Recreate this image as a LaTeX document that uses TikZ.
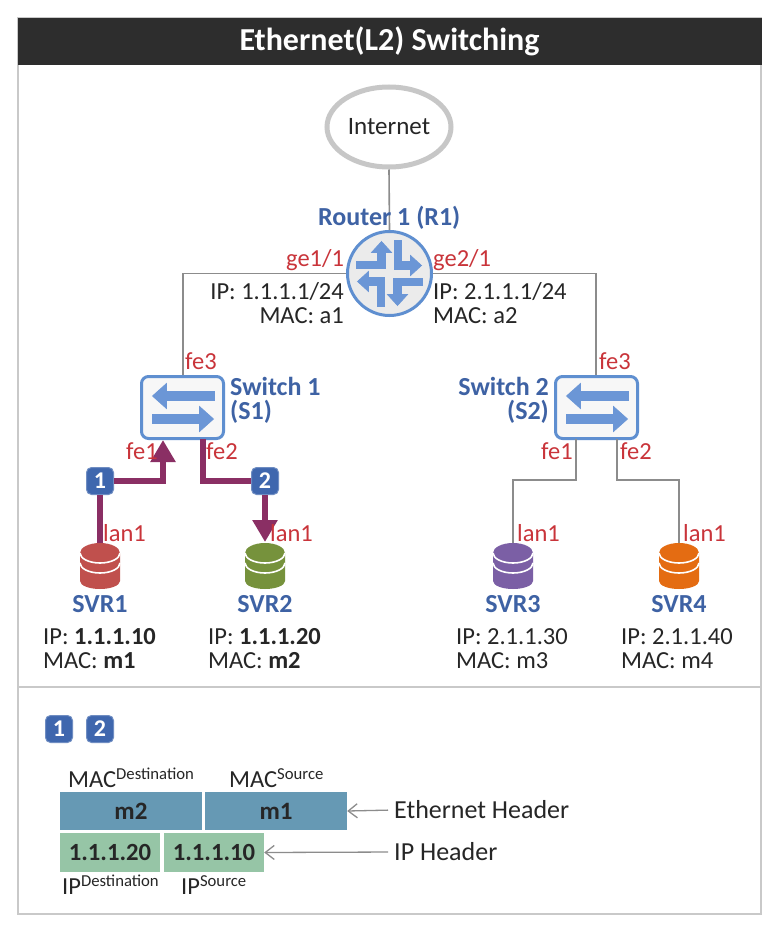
\documentclass[tikz,border=0pt]{standalone}
\usepackage{fontspec}
\setmainfont{Carlito}
\usetikzlibrary{arrows.meta,shapes.geometric}
\definecolor{framegray}{HTML}{C9C9C9}
\definecolor{linegray}{HTML}{8C8C8C}
\definecolor{titledark}{HTML}{2D2D2D}
\definecolor{iconblue}{HTML}{6B96D6}
\definecolor{edgeblue}{HTML}{5F8FD0}
\definecolor{labelblue}{HTML}{3E62A4}
\definecolor{portred}{HTML}{C9343A}
\definecolor{flowpurple}{HTML}{8A2F64}
\definecolor{badgeblue}{HTML}{3F67AE}
\definecolor{machead}{HTML}{6699B4}
\definecolor{iphead}{HTML}{96C5A6}
\definecolor{txt}{HTML}{262626}
\definecolor{dbred}{HTML}{C0504D}
\definecolor{dbgreen}{HTML}{76923C}
\definecolor{dbpurple}{HTML}{7B5FA5}
\definecolor{dborange}{HTML}{E46C12}
\newcommand{\fs}[1]{\fontsize{#1}{#1}\selectfont}
\newcommand{\supword}[2]{#1\raisebox{8pt}{\fs{16.7}#2}}
\tikzset{
  x=1pt,y=-1pt,
  plain/.style={text=txt,inner sep=0pt,anchor=base west,font=\fs{24.5}},
  plainr/.style={plain,anchor=base east},
  port/.style={text=portred,inner sep=0pt,anchor=base west,font=\fs{24.5}},
  devname/.style={text=labelblue,inner sep=0pt,anchor=base west,font=\fs{26}\bfseries},
  svrname/.style={devname,anchor=base},
  wire/.style={draw=linegray,line width=1.6pt},
  flow/.style={draw=flowpurple,line width=5.5pt},
  flowhead/.style={flow,-{Triangle[length=22pt,width=24pt]},shorten >=0pt},
  badge/.style={fill=badgeblue,draw=badgeblue!75,line width=1pt,rounded corners=5pt,text=white,font=\fs{24}\bfseries,minimum width=27pt,minimum height=27pt,inner sep=0pt},
  switchbox/.style={draw=edgeblue,fill=black!3,line width=3pt,rounded corners=7pt,minimum width=82pt,minimum height=62pt,inner sep=0pt},
  routerdisc/.style={circle,draw=edgeblue,fill=black!8,line width=3pt,minimum size=84pt,inner sep=0pt},
  dbbox/.style={minimum width=40pt,minimum height=46pt,inner sep=0pt},
  hdrmac/.style={fill=machead,text=txt,font=\fs{25}\bfseries,minimum height=38pt,inner sep=0pt},
  hdrip/.style={fill=iphead,text=txt,font=\fs{24.7}\bfseries,minimum height=39pt,minimum width=100pt,inner sep=0pt},
  pointer/.style={draw=linegray,line width=1.3pt,-{Straight Barb[length=9pt,width=14pt]},shorten <=6pt},
  iconfill/.style={fill=iconblue,draw=iconblue,line width=.7pt},
}
% database icon: #1 node name, #2 colour
\newcommand{\dbicon}[2]{%
  \begin{scope}[shift={(#1.center)}]
    \fill[#2] (-20,-14) -- (-20,14) arc[x radius=20,y radius=8,start angle=180,end angle=0] -- (20,-14) -- cycle;
    \fill[#2] (0,-14) ellipse[x radius=20,y radius=10];
    \draw[white,line width=1.6pt] (-20,-14) arc[x radius=20,y radius=10,start angle=180,end angle=0];
    \draw[white,line width=1.6pt] (-20,-4) arc[x radius=20,y radius=10,start angle=180,end angle=0];
  \end{scope}}
\newcommand{\switchicon}[1]{%
  \begin{scope}[shift={(#1.center)}]
    \path[iconfill] (-30,-11.5) -- (-16,-24) -- (-16,-16) -- (32,-16) -- (32,-7) -- (-16,-7) -- (-16,1) -- cycle;
    \path[iconfill] (31,11.5) -- (17,-1) -- (17,7) -- (-30,7) -- (-30,16) -- (17,16) -- (17,24) -- cycle;
  \end{scope}}
\begin{document}
\begin{tikzpicture}
\useasboundingbox (0,0) rectangle (776,928);
\fill[white] (0,0) rectangle (776,928);
% frame
\draw[framegray,line width=2.5pt] (18,18) rectangle (761,914);
\draw[framegray,line width=2.5pt] (18,687) -- (761,687);
\node[fill=titledark,minimum width=744pt,minimum height=47pt,inner sep=0pt,text=white,font=\fs{32}\bfseries] (title) at (389.5,41.5) {\raisebox{-1pt}{Ethernet(L2) Switching}};
% nodes
\node[ellipse,draw=black!22,fill=white,line width=5pt,minimum width=124pt,minimum height=80pt,inner sep=0pt,font=\fs{25},text=txt] (internet) at (389,127) {\raisebox{-1pt}{Internet}};
\node[dbbox] (svr1) at (100,567) {};
\node[dbbox] (svr2) at (265,567) {};
\node[dbbox] (svr3) at (513,567) {};
\node[dbbox] (svr4) at (679,567) {};
\node[routerdisc] (r1) at (389.5,273.5) {};
\node[switchbox] (s1) at (182.5,407.5) {};
\node[switchbox] (s2) at (596.5,407.5) {};
\coordinate (s1top) at (183,375);
\coordinate (s2top) at (596,375);
% wires
\draw[wire] (internet.south) -- (r1.north);
\draw[wire] (r1.west) -| (s1top);
\draw[wire] (r1.east) -| (s2top);
\draw[wire] (576,439) -- (576,480) -- (513,480) -- (svr3.north);
\draw[wire] (617,439) -- (617,480) -- (679,480) -- (svr4.north);
% flows
\node[badge] (b1) at (100,481) {1};
\node[badge] (b2) at (265,481) {2};
\draw[flow] (svr1.north) -- (b1.south);
\draw[flowhead] (b1.east) -| (163,440);
\draw[flow] (203,439) |- (b2.west);
\draw[flowhead] (b2.south) -- (265,542);
% icons
\foreach \a in {0,90,180,270}{
  \begin{scope}[shift={(r1.center)},rotate=\a]
    \path[iconfill] (-33,-12) -- (-12,-12) -- (-12,-21) -- (-18,-21) -- (-8,-32) -- (2,-21) -- (-4,-21) -- (-4,-5) -- (-33,-5) -- cycle;
  \end{scope}}
\switchicon{s1}
\switchicon{s2}
\dbicon{svr1}{dbred}
\dbicon{svr2}{dbgreen}
\dbicon{svr3}{dbpurple}
\dbicon{svr4}{dborange}
% labels
\node[devname] (r1name) at (318,225) {Router 1 (R1)};
\node[port] (ge1) at (286,266) {ge1/1};
\node[port] (ge2) at (433,266) {ge2/1};
\node[plainr] (ip1) at (344,299) {IP: 1.1.1.1/24};
\node[plainr] (mac1) at (344,323) {MAC: a1};
\node[plain] (ip2) at (433,299) {IP: 2.1.1.1/24};
\node[plain] (mac2) at (433,323) {MAC: a2};
\node[port] (p1) at (185,369) {fe3};
\node[port] (p2) at (599,369) {fe3};
\node[devname] (s1n) at (230,395) {Switch 1};
\node[devname] (s1m) at (230,419) {(S1)};
\node[devname,anchor=base east] (s2n) at (549,395) {Switch 2};
\node[devname,anchor=base east] (s2m) at (549,419) {(S2)};
\node[port] (p3) at (126,459) {fe1};
\node[port] (p4) at (206,459) {fe2};
\node[port] (p5) at (541,459) {fe1};
\node[port] (p6) at (620,459) {fe2};
\node[port] (l1) at (103,541) {lan1};
\node[port] (l2) at (270,541) {lan1};
\node[port] (l3) at (517,541) {lan1};
\node[port] (l4) at (683,541) {lan1};
\node[svrname] (n1) at (100,612.5) {SVR1};
\node[svrname] (n2) at (265,612.5) {SVR2};
\node[svrname] (n3) at (513,612.5) {SVR3};
\node[svrname] (n4) at (679,612.5) {SVR4};
\node[plain] (i1) at (43,644) {IP: \textbf{1.1.1.10}};
\node[plain] (m1) at (43,668) {MAC: \textbf{m1}};
\node[plain] (i2) at (208,644) {IP: \textbf{1.1.1.20}};
\node[plain] (m2) at (208,668) {MAC: \textbf{m2}};
\node[plain] (i3) at (456,644) {IP: 2.1.1.30};
\node[plain] (m3) at (456,668) {MAC: m3};
\node[plain] (i4) at (621,644) {IP: 2.1.1.40};
\node[plain] (m4) at (621,668) {MAC: m4};
% legend
\node[badge] (lb1) at (59,729) {1};
\node[badge] (lb2) at (100,729) {2};
\node[plain] (macd) at (68,787) {\supword{MAC}{Destination}};
\node[plain] (macs) at (229,787) {\supword{MAC}{Source}};
\node[hdrmac,minimum width=142pt] (hm2) at (131,811) {m2};
\node[hdrmac,minimum width=142pt] (hm1) at (276,811) {m1};
\node[hdrip] (hi2) at (110,852.5) {1.1.1.20};
\node[hdrip] (hi1) at (214,852.5) {1.1.1.10};
\node[plain] (ipd) at (62,894) {\supword{IP}{Destination}};
\node[plain] (ips) at (181,894) {\supword{IP}{Source}};
\node[plain,font=\fs{26},anchor=west] (ethl) at (394,810) {Ethernet Header};
\node[plain,font=\fs{26},anchor=west] (ipl) at (394,852) {IP Header};
\draw[pointer] (ethl.west) -- (hm1.east);
\draw[pointer] (ipl.west) -- (hi1.east);
\end{tikzpicture}
\end{document}
